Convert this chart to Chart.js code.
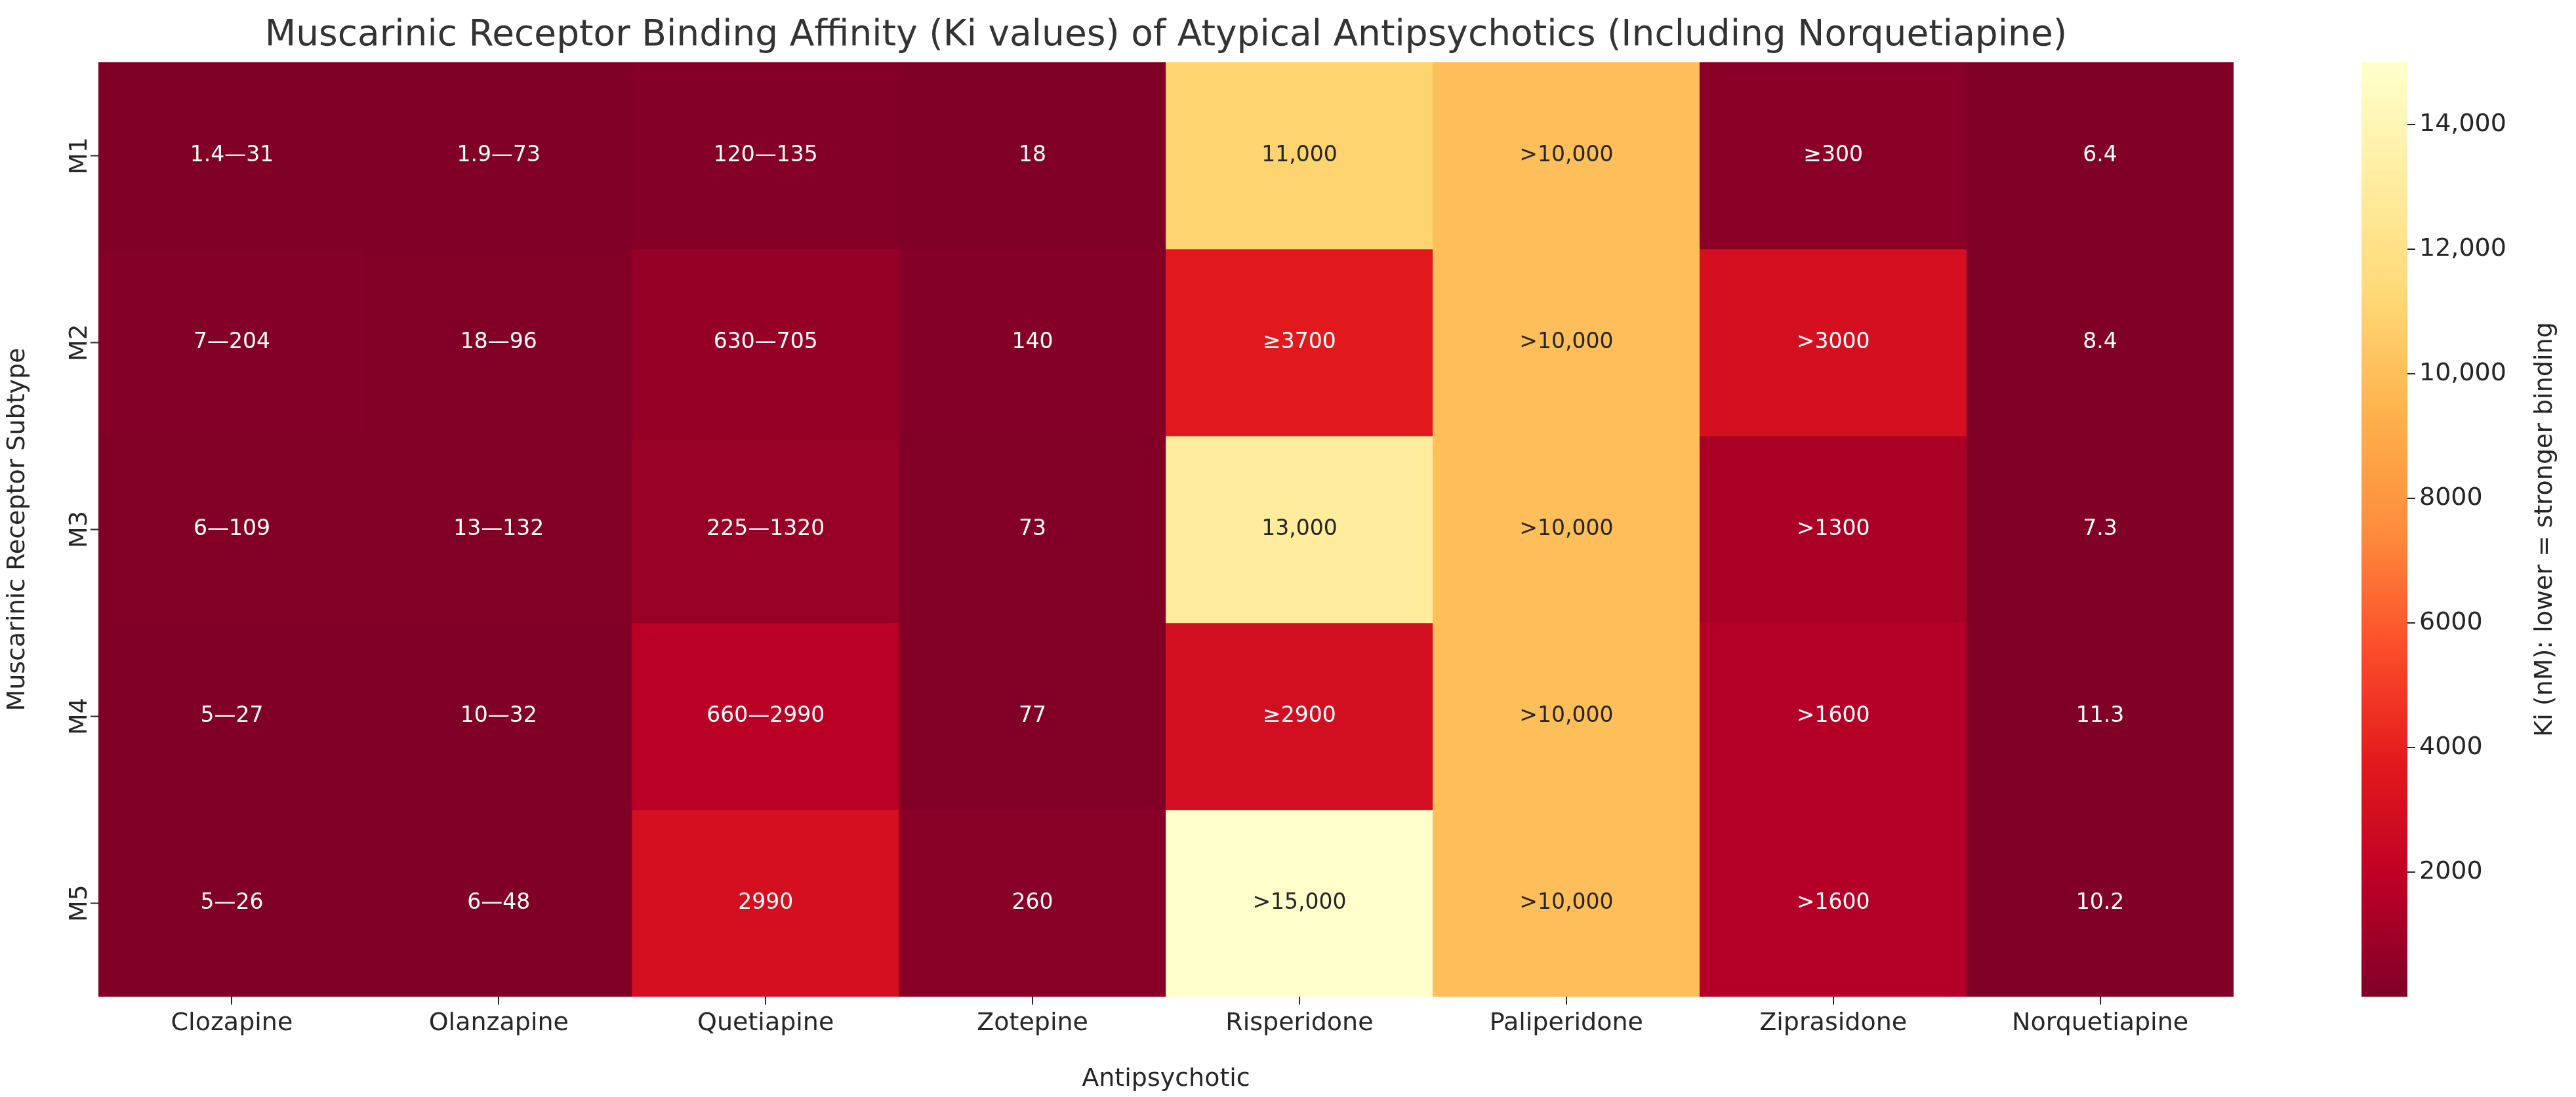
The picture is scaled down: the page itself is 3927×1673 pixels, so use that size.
<!DOCTYPE html>
<html><head><meta charset="utf-8">
<script src="https://cdn.jsdelivr.net/npm/chart.js@4.4.1/dist/chart.umd.min.js"></script>
<style>body{margin:0;background:#fff;width:3927px;height:1673px;overflow:hidden;position:relative;font-family:"DejaVu Sans"}
#a{position:absolute;left:0;top:0;width:3450px;height:1673px}
#b{position:absolute;left:3560px;top:0;width:367px;height:1673px}</style>
</head><body>
<div id="a"><canvas id="c1"></canvas></div>
<div id="b"><canvas id="c2"></canvas></div>
<script>
const drugs=["Clozapine","Olanzapine","Quetiapine","Zotepine","Risperidone","Paliperidone","Ziprasidone","Norquetiapine"];
const subtypes=["M1","M2","M3","M4","M5"];
const cellText=[
["1.4—31","1.9—73","120—135","18","11,000",">10,000","≥300","6.4"],
["7—204","18—96","630—705","140","≥3700",">10,000",">3000","8.4"],
["6—109","13—132","225—1320","73","13,000",">10,000",">1300","7.3"],
["5—27","10—32","660—2990","77","≥2900",">10,000",">1600","11.3"],
["5—26","6—48","2990","260",">15,000",">10,000",">1600","10.2"]];
const kiValues=[
[16,37,128,18,11000,10000,300,6.4],
[105,57,668,140,3700,10000,3000,8.4],
[57,72,772,73,13000,10000,1300,7.3],
[16,21,1825,77,2900,10000,1600,11.3],
[15,27,2990,260,15000,10000,1600,10.2]];
const cbTicks=[2000,4000,6000,8000,10000,12000,14000];
const vmin=1.4,vmax=15000;
const F='"DejaVu Sans"';
const stops=["#800026","#bd0026","#e31a1c","#fc4e2a","#fd8d3c","#feb24c","#fed976","#ffeda0","#ffffcc"];
function hex(h){return [1,3,5].map(i=>parseInt(h.substr(i,2),16));}
function cmap(v){let t=Math.min(1,Math.max(0,(v-vmin)/(vmax-vmin)))*8;let i=Math.min(7,Math.floor(t));let f=t-i;
 const a=hex(stops[i]),b=hex(stops[i+1]);const c=a.map((x,k)=>Math.round(x+(b[k]-x)*f));return c;}
function rgb(c){return `rgb(${c[0]},${c[1]},${c[2]})`;}
const datasets=subtypes.map((s,r)=>({label:s,data:drugs.map(()=>[r,r+1]),
 backgroundColor:kiValues[r].map(v=>rgb(cmap(v))),borderWidth:0,barPercentage:1,categoryPercentage:1,grouped:false}));
const cellPlugin={id:'cells',afterDatasetsDraw(ch){const g=ch.ctx;g.save();g.font=`33px ${F}`;g.textAlign='center';g.textBaseline='middle';
 ch.data.datasets.forEach((d,r)=>{ch.getDatasetMeta(r).data.forEach((el,c)=>{const col=cmap(kiValues[r][c]);
  const L=0.299*col[0]+0.587*col[1]+0.114*col[2];g.fillStyle=L>150?'#262626':'#ffffff';
  g.fillText(cellText[r][c],el.x,(el.y+el.base)/2);});});
 const y=ch.scales.y;g.fillStyle='#262626';g.font=`38px ${F}`;
 subtypes.forEach((s,r)=>{const py=y.getPixelForValue(r+0.5);g.save();g.translate(y.right-28,py);g.rotate(-Math.PI/2);g.fillText(s,0,0);g.restore();
  g.strokeStyle='#262626';g.lineWidth=2;g.beginPath();g.moveTo(y.right-12,py);g.lineTo(y.right,py);g.stroke();});
 g.font=`55px ${F}`;g.fillStyle='#333333';g.fillText("Muscarinic Receptor Binding Affinity (Ki values) of Atypical Antipsychotics (Including Norquetiapine)",(ch.chartArea.left+ch.chartArea.right)/2,55);
 g.restore();}};
new Chart(document.getElementById('c1'),{type:'bar',data:{labels:drugs,datasets},
 options:{responsive:true,maintainAspectRatio:false,animation:false,layout:{padding:{top:95,right:45}},
 plugins:{legend:{display:false},tooltip:{enabled:false}},
 scales:{x:{offset:true,grid:{drawOnChartArea:false,offset:false,color:'#262626',tickLength:12,lineWidth:2},border:{display:false},
   ticks:{color:'#262626',font:{family:F,size:38},padding:6,maxRotation:0},
   title:{display:true,text:'Antipsychotic',color:'#262626',font:{family:F,size:38},padding:{top:0}},
   afterFit:s=>{s.height=153;}},
  y:{type:'linear',min:0,max:5,reverse:true,grid:{display:false},border:{display:false},ticks:{display:false},
   title:{display:true,text:'Muscarinic Receptor Subtype',color:'#262626',font:{family:F,size:38},padding:{bottom:0}},
   afterFit:s=>{s.width=150;}}}},plugins:[cellPlugin]});
const cbPlugin={id:'cbt',afterDraw(ch){const g=ch.ctx;const a=ch.chartArea;g.save();g.translate(320,(a.top+a.bottom)/2);g.rotate(-Math.PI/2);
 g.font=`38px ${F}`;g.fillStyle='#262626';g.textAlign='center';g.textBaseline='middle';g.fillText('Ki (nM): lower = stronger binding',0,0);g.restore();}};
new Chart(document.getElementById('c2'),{type:'bar',data:{labels:[''],datasets:[{data:[[vmin,vmax]],borderWidth:0,barPercentage:1,categoryPercentage:1,
 backgroundColor:ctx=>{const a=ctx.chart.chartArea;if(!a)return '#800026';const gr=ctx.chart.ctx.createLinearGradient(0,a.bottom,0,a.top);
  stops.forEach((s,i)=>gr.addColorStop(i/8,s));return gr;}}]},
 options:{responsive:true,maintainAspectRatio:false,animation:false,layout:{padding:{top:95,bottom:153,left:40}},
 plugins:{legend:{display:false},tooltip:{enabled:false}},
 scales:{x:{display:false},y:{position:'right',min:vmin,max:vmax,border:{display:false},
  afterBuildTicks:s=>{s.ticks=cbTicks.map(v=>({value:v}));},
  grid:{drawOnChartArea:false,color:'#262626',tickLength:12,lineWidth:2},
  ticks:{color:'#262626',font:{family:F,size:38},padding:6,callback:v=>v>=10000?v.toLocaleString('en-US'):String(v)},
  afterFit:s=>{s.width=257;}}}},plugins:[cbPlugin]});
</script></body></html>
